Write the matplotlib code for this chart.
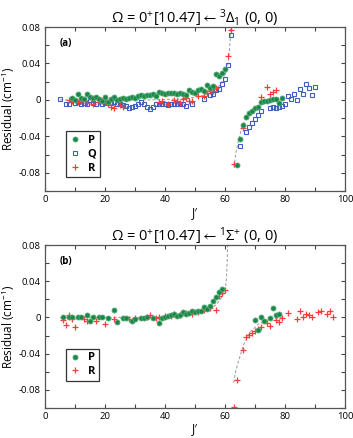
import matplotlib
matplotlib.use("Agg")
import matplotlib.pyplot as plt
from matplotlib.ticker import MultipleLocator, FuncFormatter

plt.rcParams['font.family'] = ['Open Sans', 'DejaVu Sans']
plt.rcParams['axes.unicode_minus'] = False
plt.rcParams['mathtext.fontset'] = 'custom'
plt.rcParams['mathtext.rm'] = 'Open Sans'
plt.rcParams['mathtext.it'] = 'Open Sans'
plt.rcParams['mathtext.fallback'] = 'stixsans'

# ---------------- Panel (a) data ----------------
a_P_J = [9, 10, 11, 12, 13, 14, 15, 16, 17, 18, 19, 20, 21, 22, 23, 24, 25, 26, 27, 28, 29, 30,
         31, 32, 33, 34, 35, 36, 37, 38, 39, 40, 41, 42, 43, 44, 45, 46, 47, 48, 49, 50, 51, 52,
         53, 54, 55, 56, 57, 58, 59, 60,
         64, 65, 66, 67, 68, 69, 70, 71, 72, 73, 74, 75, 76, 77, 78, 79]
a_P_v = [0.002, 0.000, 0.007, 0.002, 0.001, 0.006, 0.003, 0.002, 0.003, 0.001, -0.001, 0.003,
         -0.002, 0.001, 0.003, 0.000, 0.001, 0.002, 0.001, 0.002, 0.003, 0.002, 0.004, 0.005,
         0.004, 0.005, 0.005, 0.006, 0.004, 0.009, 0.008, 0.007, 0.008, 0.008, 0.008, 0.007,
         0.008, 0.007, 0.005, 0.011, 0.009, 0.008, 0.011, 0.012, 0.010, 0.016, 0.013, 0.015,
         0.028, 0.026, 0.030, 0.034,
         -0.071, -0.043, -0.028, -0.019, -0.014, -0.012, -0.009, -0.008, -0.002, -0.001,
         -0.001, 0.000, 0.001, 0.001, -0.003, 0.002]

a_Q_J = [5, 7, 8, 9, 10, 11, 12, 13, 14, 15, 16, 17, 19, 20, 21, 22, 23, 24, 25, 26, 27, 28,
         29, 30, 31, 32, 33, 34, 35, 36, 37, 38, 39, 40, 41, 42, 43, 44, 45, 46, 47, 49, 53,
         55, 56, 57, 58, 59, 60, 61, 62,
         65, 67, 68, 69, 70, 71, 72, 75, 76, 77, 78, 79, 80, 81, 82, 83, 84, 85, 86, 87, 88,
         89, 90]
a_Q_v = [0.001, -0.005, -0.004, 0.001, -0.003, -0.002, -0.004, -0.003, -0.004, 0.000, -0.003,
         -0.005, -0.005, -0.003, -0.002, -0.003, -0.002, -0.004, -0.005, -0.006, -0.007,
         -0.009, -0.008, -0.007, -0.004, -0.002, -0.005, -0.008, -0.010, -0.008, -0.004,
         -0.005, -0.004, -0.005, -0.006, -0.005, -0.004, -0.005, -0.004, -0.005, -0.007,
         -0.005, 0.001, 0.005, 0.006, 0.011, 0.012, 0.018, 0.023, 0.038, 0.071,
         -0.051, -0.035, -0.030, -0.025, -0.021, -0.017, -0.012, -0.009, -0.008, -0.009,
         -0.008, -0.007, -0.005, 0.004, 0.001, 0.007, 0.000, 0.012, 0.007, 0.018, 0.013,
         0.005, 0.014]

a_R_J = [8, 9, 11, 12, 14, 16, 18, 19, 20, 21, 22, 23, 25, 26, 38, 39, 41, 43, 44, 45, 46,
         47, 48, 49, 51, 53, 54, 55, 56, 57, 61, 62,
         63, 66, 72, 74, 75, 76, 77]
a_R_v = [0.000, -0.001, -0.002, -0.001, -0.003, -0.004, -0.002, -0.001, -0.002, -0.005,
         -0.008, -0.009, -0.006, -0.008, -0.002, -0.001, -0.005, 0.000, -0.001, -0.003,
         0.001, 0.002, -0.001, -0.001, 0.004, 0.004, 0.008, 0.010, 0.010, 0.013, 0.048, 0.077,
         -0.070, -0.031, 0.003, 0.014, 0.007, 0.009, 0.011]

a_fit_up_J = [5, 20, 35, 45, 50, 53, 55, 57, 58.5, 59.5, 60.5, 61.0, 61.4, 61.7, 61.9]
a_fit_up_v = [0.000, 0.000, 0.000, 0.001, 0.003, 0.005, 0.008, 0.012, 0.017, 0.023, 0.032,
              0.040, 0.052, 0.065, 0.080]
a_fit_lo_J = [63.0, 63.5, 64.5, 65.8, 67.9, 70.7, 74, 77, 80]
a_fit_lo_v = [-0.074, -0.060, -0.044, -0.028, -0.015, -0.007, -0.003, -0.001, 0.000]

# ---------------- Panel (b) data ----------------
b_P_J = [6, 8, 9, 11, 12, 14, 15, 16, 18, 19, 21, 23, 24, 26, 27, 29, 30, 32, 33, 34, 36,
         38, 39, 40, 41, 42, 43, 44, 45, 46, 47, 48, 49, 50, 51, 52, 53, 54, 55, 56, 57, 58, 59,
         70, 71, 72, 73, 75, 76, 77, 78]
b_P_v = [0.000, 0.000, 0.001, 0.000, 0.001, 0.003, -0.004, 0.000, 0.001, 0.000, -0.001,
         0.008, -0.005, -0.001, -0.001, -0.004, -0.002, -0.001, -0.001, 0.000, -0.001,
         -0.006, -0.001, 0.001, 0.002, 0.003, 0.004, 0.002, 0.003, 0.006, 0.004, 0.005, 0.007,
         0.006, 0.007, 0.007, 0.011, 0.009, 0.013, 0.018, 0.023, 0.028, 0.031,
         -0.003, -0.014, 0.001, -0.004, -0.001, 0.010, 0.003, 0.004]

b_R_J = [6, 7, 8, 9, 10, 13, 14, 17, 20, 23, 28, 30, 34, 35, 37, 38, 40, 42, 43, 45, 47,
         49, 51, 53, 55, 57, 58, 59, 60,
         63, 64, 66, 67, 68, 69, 70, 71, 72, 74, 75, 77, 78, 79, 81, 84, 85, 86, 87, 88, 89,
         91, 92, 94, 95, 96]
b_R_v = [-0.003, -0.008, 0.003, -0.002, -0.010, -0.002, -0.004, -0.004, -0.007, -0.002,
         -0.002, -0.001, 0.000, 0.003, -0.001, 0.001, 0.002, 0.002, 0.004, 0.003, 0.005,
         0.004, 0.006, 0.008, 0.010, 0.008, 0.024, 0.027, 0.030,
         -0.099, -0.069, -0.036, -0.022, -0.019, -0.017, -0.015, -0.013, -0.010, -0.006,
         -0.009, -0.003, -0.005, -0.001, 0.005, -0.002, 0.007, 0.000, 0.004, 0.003, 0.000,
         0.006, 0.007, 0.004, 0.007, 0.000]

b_fit_up_J = [5, 20, 35, 45, 50, 53, 55, 57, 58.5, 59.5, 60.2, 60.5, 60.7, 60.85]
b_fit_up_v = [0.000, 0.000, 0.000, 0.001, 0.004, 0.006, 0.009, 0.014, 0.020, 0.027, 0.034,
              0.045, 0.060, 0.080]
b_fit_lo_J = [62.9, 63.5, 64.6, 66.2, 68.4, 71.2, 74, 77, 80]
b_fit_lo_v = [-0.072, -0.060, -0.047, -0.030, -0.016, -0.007, -0.003, -0.001, 0.000]

titles = [r'$\Omega$ = 0$^{+}$[10.47]$\leftarrow$$^{3}\Delta_{1}$ (0, 0)',
          r'$\Omega$ = 0$^{+}$[10.47]$\leftarrow$$^{1}\Sigma^{+}$ (0, 0)']
panel_labels = ['(a)', '(b)']

GREEN = '#1a8748'
GREEN_EDGE = '#55aa75'
BLUE = '#3f5fbf'
RED = '#ff3a3a'
FIT = '#9a9a9a'

fig = plt.figure(figsize=(3.53, 4.38), dpi=100)
ax_a = fig.add_axes([0.1275, 0.5639, 0.850, 0.3744])
ax_b = fig.add_axes([0.1275, 0.0685, 0.850, 0.3721])


def style(ax):
    ax.set_xlim(0, 100)
    ax.set_ylim(-0.1, 0.08)
    ax.xaxis.set_major_locator(MultipleLocator(10))
    ax.yaxis.set_major_locator(MultipleLocator(0.02))
    ax.xaxis.set_major_formatter(FuncFormatter(
        lambda v, p: f'{int(round(v))}' if int(round(v)) % 20 == 0 else ''))

    def yfmt(v, p):
        k = int(round(v / 0.02))
        if k % 2 != 0:
            return ''
        if k == 0:
            return '0'
        return f'{v:.2f}'
    ax.yaxis.set_major_formatter(FuncFormatter(yfmt))
    ax.tick_params(direction='in', top=True, right=True, length=3, width=0.8,
                   labelsize=6.8, color='#444444', pad=3)
    for s in ax.spines.values():
        s.set_color('#555555')
        s.set_linewidth(0.9)
    ax.set_xlabel('J′', fontsize=8.5, labelpad=1)
    ax.set_ylabel('Residual (cm$^{-1}$)', fontsize=8.5, labelpad=1)


def plot_P(ax, J, v):
    return ax.plot(J, v, 'o', ms=3.6, color=GREEN, mec=GREEN_EDGE, mew=0.6, ls='none')[0]


def plot_Q(ax, J, v):
    return ax.plot(J, v, 's', ms=3.3, mfc='none', mec=BLUE, mew=0.8, ls='none')[0]


def plot_R(ax, J, v):
    return ax.plot(J, v, '+', ms=5, color=RED, mew=0.9, ls='none')[0]


# Panel (a)
ax_a.plot(a_fit_up_J, a_fit_up_v, ls=(0, (3, 2)), color=FIT, lw=0.7)
ax_a.plot(a_fit_lo_J, a_fit_lo_v, ls=(0, (3, 2)), color=FIT, lw=0.7)
hQ = plot_Q(ax_a, a_Q_J, a_Q_v)
hR = plot_R(ax_a, a_R_J, a_R_v)
hP = plot_P(ax_a, a_P_J, a_P_v)
style(ax_a)
ax_a.set_title(titles[0], fontsize=10.5, pad=3)
ax_a.text(0.05, 0.90, panel_labels[0], transform=ax_a.transAxes, fontsize=7,
          fontweight='bold', va='center')
leg = ax_a.legend([hP, hQ, hR], ['P', 'Q', 'R'], loc='upper left',
                  bbox_to_anchor=(0.07, 0.365), prop={'weight': 'bold', 'size': 8},
                  frameon=True, fancybox=False, edgecolor='black', handlelength=1.0,
                  handletextpad=0.6, borderpad=0.35, labelspacing=0.25, borderaxespad=0)
leg.get_frame().set_linewidth(0.9)

# Panel (b)
ax_b.plot(b_fit_up_J, b_fit_up_v, ls=(0, (3, 2)), color=FIT, lw=0.7)
ax_b.plot(b_fit_lo_J, b_fit_lo_v, ls=(0, (3, 2)), color=FIT, lw=0.7)
hR2 = plot_R(ax_b, b_R_J, b_R_v)
hP2 = plot_P(ax_b, b_P_J, b_P_v)
style(ax_b)
ax_b.set_title(titles[1], fontsize=10.5, pad=3)
ax_b.text(0.05, 0.90, panel_labels[1], transform=ax_b.transAxes, fontsize=7,
          fontweight='bold', va='center')
leg2 = ax_b.legend([hP2, hR2], ['P', 'R'], loc='upper left',
                   bbox_to_anchor=(0.07, 0.365), prop={'weight': 'bold', 'size': 8},
                   frameon=True, fancybox=False, edgecolor='black', handlelength=1.0,
                   handletextpad=0.6, borderpad=0.35, labelspacing=0.25, borderaxespad=0)
leg2.get_frame().set_linewidth(0.9)

fig.savefig('out.png', dpi=100)
